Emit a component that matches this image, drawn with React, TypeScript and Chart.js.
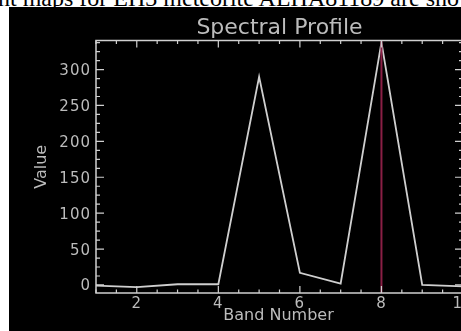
import React, { useEffect, useRef } from "react";
import { Chart, registerables } from "chart.js";

Chart.register(...registerables);

const bands = [1, 2, 3, 4, 5, 6, 7, 8, 9, 10];
const values = [-1, -3, 1, 1, 290, 17, 2, 338, 0, -2];
const xTickValues = [2, 4, 6, 8, 10];
const yTickValues = [0, 50, 100, 150, 200, 250, 300];
const markerBand = 8;
const titleText = "Spectral Profile";
const xTitle = "Band Number";
const yTitle = "Value";
const captionText = "nt maps for EH3 meteorite ALHA81189 are sho";

const AXIS = "#d0d0d0";
const TEXT = "#bcbcbc";

const idlAxes = {
  id: "idlAxes",
  afterDatasetsDraw(chart: any) {
    const ctx = chart.ctx as CanvasRenderingContext2D;
    const { left, right, top, bottom } = chart.chartArea;
    const xs = chart.scales.x;
    const ys = chart.scales.y;
    ctx.save();
    const mx = xs.getPixelForValue(markerBand);
    ctx.strokeStyle = "#8a1f45";
    ctx.lineWidth = 2;
    ctx.beginPath();
    ctx.moveTo(mx, top);
    ctx.lineTo(mx, bottom);
    ctx.stroke();

    ctx.strokeStyle = AXIS;
    ctx.lineWidth = 1.5;
    ctx.strokeRect(left, top, right - left, bottom - top);
    ctx.lineWidth = 1.2;
    const xMin = xs.min, xMax = xs.max;
    for (let v = Math.ceil(xMin * 2) / 2; v <= xMax + 1e-9; v += 0.5) {
      const px = xs.getPixelForValue(v);
      const major = Math.abs(v / 2 - Math.round(v / 2)) < 1e-6;
      const len = major ? 7 : 3.5;
      ctx.beginPath();
      ctx.moveTo(px, bottom);
      ctx.lineTo(px, bottom - len);
      ctx.moveTo(px, top);
      ctx.lineTo(px, top + len);
      ctx.stroke();
    }
    for (let v = 0; v <= ys.max + 1e-9; v += 12.5) {
      const py = ys.getPixelForValue(v);
      const major = Math.abs(v / 50 - Math.round(v / 50)) < 1e-6;
      const len = major ? 8 : 4;
      ctx.beginPath();
      ctx.moveTo(left, py);
      ctx.lineTo(left + len, py);
      ctx.moveTo(right, py);
      ctx.lineTo(right - len, py);
      ctx.stroke();
    }
    ctx.fillStyle = TEXT;
    ctx.font = "15px 'DejaVu Sans'";
    (ctx as any).letterSpacing = "1px";
    ctx.textAlign = "right";
    ctx.textBaseline = "alphabetic";
    yTickValues.forEach((v) => {
      ctx.fillText(String(v), left - 5, ys.getPixelForValue(v) + 5.5);
    });
    ctx.textAlign = "center";
    xTickValues.forEach((v) => {
      ctx.fillText(String(v), xs.getPixelForValue(v), bottom + 15);
    });
    (ctx as any).letterSpacing = "0px";
    ctx.font = "16px 'DejaVu Sans'";
    ctx.fillText(xTitle, (left + right) / 2 - 1, bottom + 27);
    ctx.save();
    ctx.translate(37, (top + bottom) / 2);
    ctx.rotate(-Math.PI / 2);
    ctx.fillText(yTitle, 0, 0);
    ctx.restore();
    ctx.font = "22px 'DejaVu Sans'";
    ctx.fillText(titleText, (left + right) / 2, top - 7);
    ctx.restore();
  },
};

export default function App() {
  const ref = useRef<HTMLCanvasElement>(null);
  useEffect(() => {
    if (!ref.current) return;
    const chart = new Chart(ref.current, {
      type: "line",
      data: {
        datasets: [
          {
            data: bands.map((b, i) => ({ x: b, y: values[i] })),
            borderColor: "#cfcfcf",
            borderWidth: 1.8,
            pointRadius: 0,
            tension: 0,
            fill: false,
          },
        ],
      },
      options: {
        animation: false,
        responsive: false,
        maintainAspectRatio: false,
        layout: { padding: { left: 87, top: 33.5, right: 6, bottom: 38 } },
        plugins: { legend: { display: false }, tooltip: { enabled: false }, title: { display: false } },
        scales: {
          x: { type: "linear", min: 1, max: 10, display: false },
          y: { type: "linear", min: -11.2, max: 340.5, display: false },
        },
      },
      plugins: [idlAxes],
    });
    return () => chart.destroy();
  }, []);

  return (
    <div style={{ position: "fixed", left: 0, top: 0, width: 461, height: 331, background: "#fff", overflow: "hidden" }}>
      <div
        style={{
          position: "absolute",
          left: -2,
          top: -14,
          whiteSpace: "nowrap",
          fontFamily: "'Liberation Serif', serif",
          fontSize: 24,
          lineHeight: "24px",
          color: "#000",
        }}
      >
        {captionText}
      </div>
      <div style={{ position: "absolute", left: 9, top: 7, width: 452, height: 324, background: "#000", overflow: "hidden" }}>
        <canvas ref={ref} width={460} height={324} style={{ display: "block", width: 460, height: 324 }} />
      </div>
    </div>
  );
}
